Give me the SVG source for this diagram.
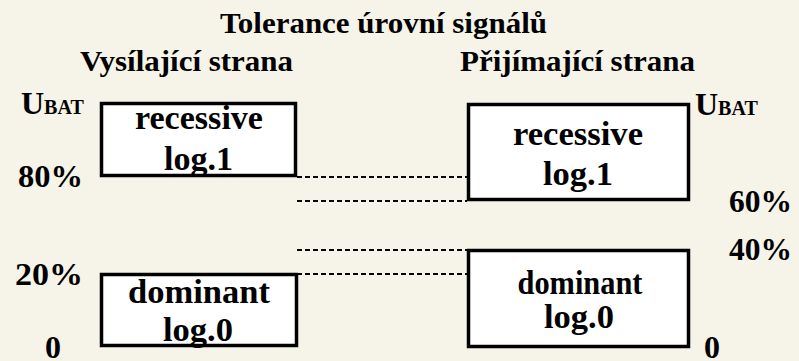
<svg xmlns="http://www.w3.org/2000/svg" width="799" height="361" viewBox="0 0 799 361">
  <style>
    .t { font-family: 'Liberation Serif', 'Times New Roman', serif; font-weight: bold; fill: #000; }
    .head { font-size: 30px; }
    .lbl { font-size: 32px; }
    .sub { font-size: 20px; }
    .box { fill: #ffffff; stroke: #000; stroke-width: 3.5; }
    .btxt { font-size: 33px; text-anchor: middle; }
    .dash { stroke: #000; stroke-width: 2; stroke-dasharray: 5 3; fill: none; }
  </style>
  <rect x="0" y="0" width="799" height="361" fill="#f6f4e9"/>

  <g id="titles">
    <text class="t head" x="220" y="33" textLength="327" lengthAdjust="spacingAndGlyphs">Tolerance úrovní signálů</text>
    <text class="t head" x="80" y="71" textLength="213" lengthAdjust="spacingAndGlyphs">Vysílající strana</text>
    <text class="t head" x="460" y="71" textLength="235" lengthAdjust="spacingAndGlyphs">Přijímající strana</text>
  </g>

  <g id="connectors">
    <line class="dash" x1="297" y1="177" x2="467" y2="177"/>
    <line class="dash" x1="297" y1="201" x2="467" y2="201"/>
    <line class="dash" x1="297" y1="250" x2="467" y2="250"/>
    <line class="dash" x1="297" y1="274" x2="467" y2="274"/>
  </g>

  <g id="tx-recessive">
    <rect class="box" x="101.5" y="103.5" width="194" height="72"/>
    <text class="t btxt" x="199" y="129" textLength="128" lengthAdjust="spacingAndGlyphs">recessive</text>
    <text class="t btxt" x="198.5" y="170" textLength="69" lengthAdjust="spacingAndGlyphs">log.1</text>
  </g>

  <g id="tx-dominant">
    <rect class="box" x="101.5" y="274.5" width="195" height="71"/>
    <text class="t btxt" x="199" y="303" textLength="142" lengthAdjust="spacingAndGlyphs">dominant</text>
    <text class="t btxt" x="198" y="341" textLength="70" lengthAdjust="spacingAndGlyphs">log.0</text>
  </g>

  <g id="rx-recessive">
    <rect class="box" x="468.5" y="104.5" width="220" height="95"/>
    <text class="t btxt" x="578" y="145" textLength="130" lengthAdjust="spacingAndGlyphs">recessive</text>
    <text class="t btxt" x="578" y="185" textLength="70" lengthAdjust="spacingAndGlyphs">log.1</text>
  </g>

  <g id="rx-dominant">
    <rect class="box" x="468.5" y="250.5" width="220" height="96"/>
    <text class="t btxt" x="580" y="294" textLength="125" lengthAdjust="spacingAndGlyphs">dominant</text>
    <text class="t btxt" x="579" y="328" textLength="70" lengthAdjust="spacingAndGlyphs">log.0</text>
  </g>

  <g id="left-scale">
    <text class="t lbl" x="21" y="114">U<tspan class="sub">BAT</tspan></text>
    <text class="t lbl" x="18" y="187" textLength="65" lengthAdjust="spacingAndGlyphs">80%</text>
    <text class="t lbl" x="15" y="285" textLength="68" lengthAdjust="spacingAndGlyphs">20%</text>
    <text class="t lbl" x="45" y="358">0</text>
  </g>

  <g id="right-scale">
    <text class="t lbl" x="695" y="115">U<tspan class="sub">BAT</tspan></text>
    <text class="t lbl" x="729" y="212" textLength="63" lengthAdjust="spacingAndGlyphs">60%</text>
    <text class="t lbl" x="729" y="260" textLength="63" lengthAdjust="spacingAndGlyphs">40%</text>
    <text class="t lbl" x="704" y="358">0</text>
  </g>
</svg>
